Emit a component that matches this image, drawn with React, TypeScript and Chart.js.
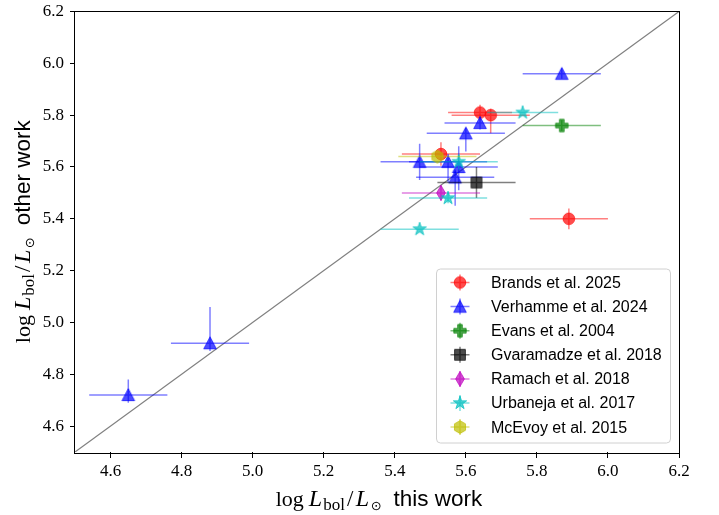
import React, { useEffect, useRef } from "react";
import { Chart, registerables } from "chart.js";

Chart.register(...registerables);

// ---------- data ----------
const xTicks = [4.6, 4.8, 5.0, 5.2, 5.4, 5.6, 5.8, 6.0, 6.2];
const yTicks = [4.6, 4.8, 5.0, 5.2, 5.4, 5.6, 5.8, 6.0, 6.2];
const axisMin = 4.5;
const axisMax = 6.2;

const seriesLabels = [
  "Brands et al. 2025",
  "Verhamme et al. 2024",
  "Evans et al. 2004",
  "Gvaramadze et al. 2018",
  "Ramach et al. 2018",
  "Urbaneja et al. 2017",
  "McEvoy et al. 2015",
];

const brandsX = [5.64, 5.67, 5.53, 5.89];
const brandsY = [5.81, 5.80, 5.65, 5.40];
const brandsXErr = [0.09, 0.11, 0.11, 0.11];
const brandsYLo = [0.03, 0.07, 0.045, 0.04];
const brandsYHi = [0.03, 0.025, 0.045, 0.04];

const verhammeX = [5.87, 5.64, 5.60, 5.47, 5.55, 5.58, 5.57, 4.65, 4.88];
const verhammeY = [5.96, 5.77, 5.73, 5.62, 5.62, 5.60, 5.56, 4.72, 4.92];
const verhammeXErr = [0.11, 0.10, 0.11, 0.11, 0.11, 0.11, 0.11, 0.11, 0.11];
const verhammeYLo = [0.02, 0.025, 0.07, 0.07, 0.08, 0.09, 0.11, 0.03, 0.03];
const verhammeYHi = [0.02, 0.025, 0.02, 0.07, 0.03, 0.08, 0.03, 0.06, 0.14];

const evansX = [5.87];
const evansY = [5.76];
const evansXErr = [0.11];
const evansYLo = [0.02];
const evansYHi = [0.02];

const gvaramadzeX = [5.63];
const gvaramadzeY = [5.54];
const gvaramadzeXErr = [0.11];
const gvaramadzeYLo = [0.06];
const gvaramadzeYHi = [0.06];

const ramachX = [5.53];
const ramachY = [5.50];
const ramachXErr = [0.11];
const ramachYLo = [0.03];
const ramachYHi = [0.03];

const urbanejaX = [5.76, 5.58, 5.55, 5.47];
const urbanejaY = [5.81, 5.62, 5.48, 5.36];
const urbanejaXErr = [0.10, 0.11, 0.11, 0.11];
const urbanejaYLo = [0.0, 0.03, 0.02, 0.0];
const urbanejaYHi = [0.0, 0.03, 0.02, 0.0];

const mcevoyX = [5.52];
const mcevoyY = [5.64];
const mcevoyXErr = [0.11];
const mcevoyYLo = [0.0];
const mcevoyYHi = [0.0];

// ---------- styles ----------
type Shape = "circle" | "triangle" | "plus" | "square" | "diamond" | "star" | "hexagon";

const seriesStyle: { rgb: string; shape: Shape }[] = [
  { rgb: "255,0,0", shape: "circle" },
  { rgb: "0,0,255", shape: "triangle" },
  { rgb: "0,128,0", shape: "plus" },
  { rgb: "0,0,0", shape: "square" },
  { rgb: "191,0,191", shape: "diamond" },
  { rgb: "0,191,191", shape: "star" },
  { rgb: "191,191,0", shape: "hexagon" },
];

const MARK_ALPHA = 0.7;
const ERR_ALPHA = 0.5;

function shapePath(ctx: CanvasRenderingContext2D, shape: Shape, cx: number, cy: number) {
  ctx.beginPath();
  if (shape === "circle") {
    ctx.arc(cx, cy, 5.8, 0, Math.PI * 2);
  } else if (shape === "triangle") {
    const h = 6.3;
    ctx.moveTo(cx, cy - h);
    ctx.lineTo(cx - h, cy + h * 0.9);
    ctx.lineTo(cx + h, cy + h * 0.9);
    ctx.closePath();
  } else if (shape === "square") {
    ctx.rect(cx - 5.4, cy - 5.4, 10.8, 10.8);
  } else if (shape === "plus") {
    const a = 6.2, t = 2.3;
    ctx.moveTo(cx - t, cy - a);
    ctx.lineTo(cx + t, cy - a);
    ctx.lineTo(cx + t, cy - t);
    ctx.lineTo(cx + a, cy - t);
    ctx.lineTo(cx + a, cy + t);
    ctx.lineTo(cx + t, cy + t);
    ctx.lineTo(cx + t, cy + a);
    ctx.lineTo(cx - t, cy + a);
    ctx.lineTo(cx - t, cy + t);
    ctx.lineTo(cx - a, cy + t);
    ctx.lineTo(cx - a, cy - t);
    ctx.lineTo(cx - t, cy - t);
    ctx.closePath();
  } else if (shape === "diamond") {
    ctx.moveTo(cx, cy - 7.5);
    ctx.lineTo(cx + 4.4, cy);
    ctx.lineTo(cx, cy + 7.5);
    ctx.lineTo(cx - 4.4, cy);
    ctx.closePath();
  } else if (shape === "star") {
    const ro = 7, ri = ro * 0.382;
    for (let i = 0; i < 10; i++) {
      const r = i % 2 === 0 ? ro : ri;
      const ang = -Math.PI / 2 + (i * Math.PI) / 5;
      const px = cx + r * Math.cos(ang);
      const py = cy + r * Math.sin(ang);
      if (i === 0) ctx.moveTo(px, py);
      else ctx.lineTo(px, py);
    }
    ctx.closePath();
  } else if (shape === "hexagon") {
    const r = 6.4;
    for (let i = 0; i < 6; i++) {
      const ang = -Math.PI / 2 + (i * Math.PI) / 3;
      const px = cx + r * Math.cos(ang);
      const py = cy + r * Math.sin(ang);
      if (i === 0) ctx.moveTo(px, py);
      else ctx.lineTo(px, py);
    }
    ctx.closePath();
  }
}

function makeMarker(shape: Shape, rgb: string): HTMLCanvasElement {
  const c = document.createElement("canvas");
  c.width = 18;
  c.height = 18;
  const ctx = c.getContext("2d")!;
  shapePath(ctx, shape, 9, 9);
  ctx.fillStyle = `rgba(${rgb},${MARK_ALPHA})`;
  ctx.fill();
  ctx.lineWidth = 1;
  ctx.strokeStyle = `rgba(${rgb},${MARK_ALPHA})`;
  ctx.stroke();
  return c;
}

let legendMarkers: HTMLCanvasElement[] = [];

type Err = { xe: number[]; yLo: number[]; yHi: number[] };

const seriesData: { x: number[]; y: number[]; err: Err }[] = [
  { x: brandsX, y: brandsY, err: { xe: brandsXErr, yLo: brandsYLo, yHi: brandsYHi } },
  { x: verhammeX, y: verhammeY, err: { xe: verhammeXErr, yLo: verhammeYLo, yHi: verhammeYHi } },
  { x: evansX, y: evansY, err: { xe: evansXErr, yLo: evansYLo, yHi: evansYHi } },
  { x: gvaramadzeX, y: gvaramadzeY, err: { xe: gvaramadzeXErr, yLo: gvaramadzeYLo, yHi: gvaramadzeYHi } },
  { x: ramachX, y: ramachY, err: { xe: ramachXErr, yLo: ramachYLo, yHi: ramachYHi } },
  { x: urbanejaX, y: urbanejaY, err: { xe: urbanejaXErr, yLo: urbanejaYLo, yHi: urbanejaYHi } },
  { x: mcevoyX, y: mcevoyY, err: { xe: mcevoyXErr, yLo: mcevoyYLo, yHi: mcevoyYHi } },
];

const SERIF = "'Liberation Serif', 'Times New Roman', serif";
const SANS = "'Liberation Sans', Arial, sans-serif";

type Part = { t: string; font: string; dy?: number; gap?: number };

function richParts(tail: string): Part[] {
  return [
    { t: "log", font: `22px ${SERIF}`, gap: 5 },
    { t: "L", font: `italic 24px ${SERIF}`, gap: 1 },
    { t: "bol", font: `17px ${SERIF}`, dy: 4, gap: 2 },
    { t: "/", font: `23px ${SERIF}`, gap: 2.5 },
    { t: "L", font: `italic 24px ${SERIF}`, gap: 1.5 },
    { t: "\u2299", font: `13px 'DejaVu Sans', sans-serif`, dy: 4, gap: 12 },
    { t: tail, font: `22.5px ${SANS}` },
  ];
}

function drawRich(ctx: CanvasRenderingContext2D, parts: Part[]) {
  let total = 0;
  const widths = parts.map((p) => {
    ctx.font = p.font;
    const w = ctx.measureText(p.t).width;
    total += w + (p.gap || 0);
    return w;
  });
  total -= parts[parts.length - 1].gap || 0;
  let x = -total / 2;
  ctx.textBaseline = "alphabetic";
  ctx.textAlign = "left";
  ctx.fillStyle = "#000";
  parts.forEach((p, i) => {
    ctx.font = p.font;
    ctx.fillText(p.t, x, p.dy || 0);
    x += widths[i] + (p.gap || 0);
  });
}

const errorBarPlugin = {
  id: "errorBars",
  beforeDatasetDraw(chart: any, args: any) {
    const idx = args.index;
    if (idx >= seriesData.length) return;
    const s = seriesData[idx];
    const st = seriesStyle[idx];
    const ctx: CanvasRenderingContext2D = chart.ctx;
    const xs = chart.scales.x;
    const ys = chart.scales.y;
    ctx.save();
    ctx.strokeStyle = `rgba(${st.rgb},${ERR_ALPHA})`;
    ctx.lineWidth = 1.5;
    for (let i = 0; i < s.x.length; i++) {
      const px = xs.getPixelForValue(s.x[i]);
      const py = ys.getPixelForValue(s.y[i]);
      const x0 = xs.getPixelForValue(s.x[i] - s.err.xe[i]);
      const x1 = xs.getPixelForValue(s.x[i] + s.err.xe[i]);
      const y0 = ys.getPixelForValue(s.y[i] - s.err.yLo[i]);
      const y1 = ys.getPixelForValue(s.y[i] + s.err.yHi[i]);
      ctx.beginPath();
      ctx.moveTo(x0, py);
      ctx.lineTo(x1, py);
      if (s.err.yLo[i] > 0 || s.err.yHi[i] > 0) {
        ctx.moveTo(px, y0);
        ctx.lineTo(px, y1);
      }
      ctx.stroke();
    }
    ctx.restore();
  },
};

const framePlugin = {
  id: "frameAndTitles",
  afterDraw(chart: any) {
    const ctx: CanvasRenderingContext2D = chart.ctx;
    const a = chart.chartArea;
    ctx.save();
    ctx.strokeStyle = "#000";
    ctx.lineWidth = 1;
    ctx.strokeRect(Math.round(a.left) - 0.5, Math.round(a.top) - 0.5, Math.round(a.right - a.left) + 1, Math.round(a.bottom - a.top) + 1);

    // x title
    ctx.save();
    ctx.translate((a.left + a.right) / 2 + 2, 506);
    drawRich(ctx, richParts("this work"));
    ctx.restore();

    // y title
    ctx.save();
    ctx.translate(30, (a.top + a.bottom) / 2);
    ctx.rotate(-Math.PI / 2);
    drawRich(ctx, richParts("other work"));
    ctx.restore();

    // legend
    const right = a.right - 8.5;
    const bottom = a.bottom - 9;
    const w = 234;
    const h = 174;
    const left = right - w;
    const top = bottom - h;
    const r = 4;
    ctx.beginPath();
    ctx.moveTo(left + r, top);
    ctx.arcTo(right, top, right, bottom, r);
    ctx.arcTo(right, bottom, left, bottom, r);
    ctx.arcTo(left, bottom, left, top, r);
    ctx.arcTo(left, top, right, top, r);
    ctx.closePath();
    ctx.fillStyle = "rgba(255,255,255,0.8)";
    ctx.fill();
    ctx.strokeStyle = "#d0d0d0";
    ctx.lineWidth = 1;
    ctx.stroke();

    const rowH = 24.1;
    const firstY = top + 13.5;
    const mx = left + 23.5;
    const tx = left + 54.5;
    seriesLabels.forEach((lab, i) => {
      const yy = firstY + i * rowH;
      const st = seriesStyle[i];
      ctx.strokeStyle = `rgba(${st.rgb},${ERR_ALPHA})`;
      ctx.lineWidth = 1.5;
      ctx.beginPath();
      ctx.moveTo(mx - 9.5, yy);
      ctx.lineTo(mx + 9.5, yy);
      ctx.moveTo(mx, yy - 8);
      ctx.lineTo(mx, yy + 8);
      ctx.stroke();
      const m = legendMarkers[i];
      if (m) ctx.drawImage(m, mx - m.width / 2, yy - m.height / 2);
      ctx.fillStyle = "#000";
      ctx.font = `16px ${SANS}`;
      ctx.textBaseline = "middle";
      ctx.textAlign = "left";
      ctx.fillText(lab, tx, yy + 1);
    });
    ctx.restore();
  },
};

export default function App() {
  const ref = useRef<HTMLCanvasElement | null>(null);

  useEffect(() => {
    document.body.style.margin = "0";
    const canvas = ref.current;
    if (!canvas) return;
    const markers = seriesStyle.map((s) => makeMarker(s.shape, s.rgb));
    legendMarkers = markers;

    const datasets: any[] = seriesData.map((s, i) => ({
      label: seriesLabels[i],
      data: s.x.map((xv, j) => ({ x: xv, y: s.y[j] })),
      pointStyle: markers[i],
      pointRadius: 6,
      pointHoverRadius: 6,
      backgroundColor: `rgba(${seriesStyle[i].rgb},${MARK_ALPHA})`,
      borderColor: `rgba(${seriesStyle[i].rgb},${MARK_ALPHA})`,
      showLine: false,
      order: seriesData.length - i,
    }));
    datasets.push({
      label: "one-to-one",
      data: [
        { x: axisMin, y: axisMin },
        { x: axisMax, y: axisMax },
      ],
      showLine: true,
      borderColor: "#808080",
      borderWidth: 1.2,
      pointRadius: 0,
      order: 100,
    });

    const tickFont = { family: SERIF, size: 17 };

    const chart = new Chart(canvas, {
      type: "scatter",
      data: { datasets },
      plugins: [errorBarPlugin, framePlugin],
      options: {
        animation: false,
        responsive: false,
        devicePixelRatio: 1,
        events: [],
        layout: { padding: { top: 11.5, right: 40, left: 0, bottom: 0 } },
        plugins: {
          legend: { display: false },
          tooltip: { enabled: false },
          title: { display: false },
        },
        scales: {
          x: {
            type: "linear",
            min: axisMin,
            max: axisMax,
            afterBuildTicks: (sc: any) => {
              sc.ticks = xTicks.map((v) => ({ value: v }));
            },
            afterFit: (sc: any) => {
              sc.height = 63;
              sc.paddingLeft = 0;
              sc.paddingRight = 0;
            },
            ticks: {
              font: tickFont,
              color: "#000",
              padding: 3,
              maxRotation: 0,
              autoSkip: false,
              callback: (v: any) => Number(v).toFixed(1),
            },
            grid: { drawOnChartArea: false, tickLength: 6, color: "#000", lineWidth: 1 },
            border: { display: false },
          },
          y: {
            type: "linear",
            min: axisMin,
            max: axisMax,
            afterBuildTicks: (sc: any) => {
              sc.ticks = yTicks.map((v) => ({ value: v }));
            },
            afterFit: (sc: any) => {
              sc.width = 75;
              sc.paddingTop = 0;
              sc.paddingBottom = 0;
            },
            ticks: {
              font: tickFont,
              color: "#000",
              padding: 6,
              autoSkip: false,
              callback: (v: any) => Number(v).toFixed(1),
            },
            grid: { drawOnChartArea: false, tickLength: 5, color: "#000", lineWidth: 1 },
            border: { display: false },
          },
        },
      } as any,
    });

    return () => {
      chart.destroy();
    };
  }, []);

  return (
    <div style={{ width: 719, height: 515 }}>
      <canvas ref={ref} width={719} height={515} style={{ display: "block" }} />
    </div>
  );
}
